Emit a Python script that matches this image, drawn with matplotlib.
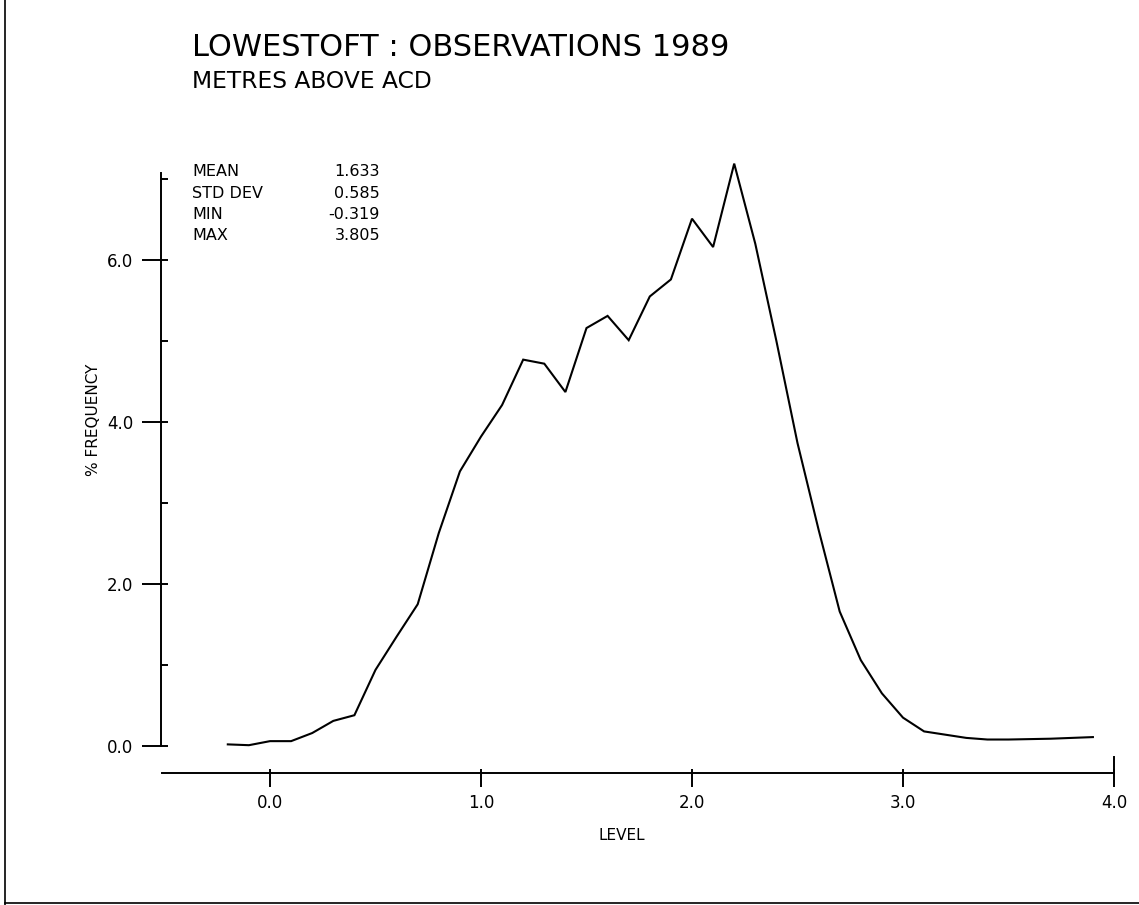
import matplotlib
matplotlib.use("Agg")
import matplotlib.pyplot as plt
from matplotlib.ticker import FixedLocator
from matplotlib.lines import Line2D

# ---- data ----
level = [-0.2, -0.1, 0.0, 0.1, 0.2, 0.3, 0.4, 0.5, 0.6, 0.7,
         0.8, 0.9, 1.0, 1.1, 1.2, 1.3, 1.4, 1.5, 1.6, 1.7,
         1.8, 1.9, 2.0, 2.1, 2.2, 2.3, 2.4, 2.5, 2.6, 2.7,
         2.8, 2.9, 3.0, 3.1, 3.2, 3.3, 3.4, 3.5, 3.6, 3.7,
         3.8, 3.9]
freq = [0.02, 0.01, 0.06, 0.06, 0.16, 0.31, 0.38, 0.94, 1.35, 1.75,
        2.63, 3.39, 3.82, 4.21, 4.77, 4.72, 4.37, 5.16, 5.31, 5.01,
        5.55, 5.76, 6.51, 6.16, 7.19, 6.20, 5.00, 3.74, 2.67, 1.66,
        1.06, 0.65, 0.35, 0.18, 0.14, 0.10, 0.08, 0.08, 0.085, 0.09,
        0.10, 0.11]
x_ticks = [0.0, 1.0, 2.0, 3.0, 4.0]
x_ticklabels = ["0.0", "1.0", "2.0", "3.0", "4.0"]
y_ticks = [0.0, 2.0, 4.0, 6.0]
y_ticklabels = ["0.0", "2.0", "4.0", "6.0"]
y_minor = [1.0, 3.0, 5.0, 7.0]
stat_names = ["MEAN", "STD DEV", "MIN", "MAX"]
stat_values = ["1.633", "0.585", "-0.319", "3.805"]
title = "LOWESTOFT : OBSERVATIONS 1989"
subtitle = "METRES ABOVE ACD"

W, H = 1139, 905
fig = plt.figure(figsize=(W / 100, H / 100), dpi=100)
plt.rcParams['font.family'] = ['DejaVu Sans']

def fx(px):
    return px / W

def fy(py):
    return 1 - py / H

# axes placement (pixel mapping: x=0 -> 270, 211 px/unit; y=0 -> 746, 81 px/unit)
xlim = (-0.52, 4.02)
ylim = (-0.35, 7.40)
x0px, xs = 270.0, 211.0
y0px, ys = 746.0, 81.0
left_px = x0px + xlim[0] * xs
right_px = x0px + xlim[1] * xs
bot_px = y0px - ylim[0] * ys
top_px = y0px - ylim[1] * ys
ax = fig.add_axes([fx(left_px), fy(bot_px), fx(right_px) - fx(left_px), fy(top_px) - fy(bot_px)])
ax.set_xlim(*xlim)
ax.set_ylim(*ylim)
ax.patch.set_alpha(0)

ax.plot(level, freq, color='black', lw=1.5, solid_joinstyle='miter')

for s in ['top', 'right']:
    ax.spines[s].set_visible(False)
ax.spines['left'].set_position(('data', -0.517))
ax.spines['left'].set_bounds(0.0, 7.08)
ax.spines['bottom'].set_position(('data', -0.333))
ax.spines['bottom'].set_bounds(-0.51, 4.0)
for s in ['left', 'bottom']:
    ax.spines[s].set_linewidth(1.4)

ax.xaxis.remove_overlapping_locs = False
ax.yaxis.remove_overlapping_locs = False

ax.yaxis.set_major_locator(FixedLocator(y_ticks))
ax.set_yticklabels(y_ticklabels)
ax.yaxis.set_minor_locator(FixedLocator(sorted(y_ticks + y_minor)))
ax.tick_params(axis='y', which='major', direction='out', length=14, width=1.4,
               labelsize=12, pad=6)
ax.tick_params(axis='y', which='minor', direction='in', length=5, width=1.4)

ax.xaxis.set_major_locator(FixedLocator(x_ticks))
ax.set_xticklabels(x_ticklabels)
ax.xaxis.set_minor_locator(FixedLocator(x_ticks))
ax.tick_params(axis='x', which='major', direction='out', length=10, width=1.4,
               labelsize=12, pad=5)
ax.tick_params(axis='x', which='minor', direction='in', length=3, width=1.4)
# end cap at the right end of the level axis
ax.plot([x_ticks[-1], x_ticks[-1]], [-0.333, -0.13], color='black', lw=1.4,
        clip_on=False)

fig.text(fx(93), fy(420), "% FREQUENCY", fontsize=11, rotation=90,
         va='center', ha='center')
fig.text(fx(622), fy(835), "LEVEL", fontsize=11, va='center', ha='center')

# titles
fig.text(fx(192), fy(47), title, fontsize=22, va='center', ha='left')
fig.text(fx(192), fy(82), subtitle, fontsize=16.8, va='center', ha='left')

# stats block
for i, (n, v) in enumerate(zip(stat_names, stat_values)):
    yy = 172 + i * 21.3
    fig.text(fx(192), fy(yy), n, fontsize=11.5, va='center', ha='left')
    fig.text(fx(380), fy(yy), v, fontsize=11.5, va='center', ha='right')

# page frame
fig.add_artist(Line2D([fx(5), fx(5)], [0, 1], color='black', lw=1.2))
fig.add_artist(Line2D([fx(5), 1], [fy(903), fy(903)], color='black', lw=1.2))

fig.savefig("out.png", dpi=100)
